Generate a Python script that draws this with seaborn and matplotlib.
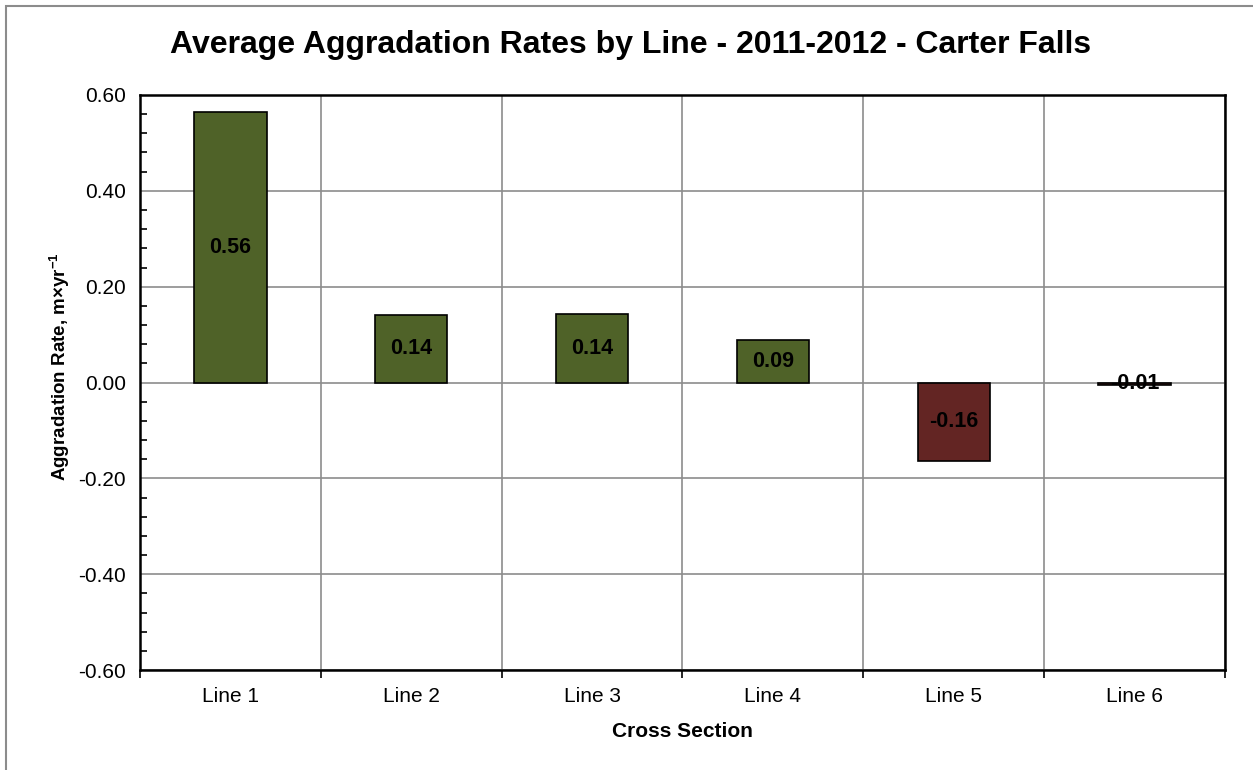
import matplotlib
matplotlib.use("Agg")
import matplotlib.pyplot as plt
from matplotlib.patches import Rectangle
from matplotlib.ticker import MultipleLocator, FixedLocator
import seaborn as sns

lines = ["Line 1", "Line 2", "Line 3", "Line 4", "Line 5", "Line 6"]
rates = [0.565, 0.141, 0.143, 0.089, -0.163, -0.006]
bar_colors = ["#4f6228", "#4f6228", "#4f6228", "#4f6228", "#632523", "#632523"]
yticks = [-0.6, -0.4, -0.2, 0.0, 0.2, 0.4, 0.6]

sns.set_style("white")
plt.rcParams["font.family"] = ["Liberation Sans", "DejaVu Sans"]
plt.rcParams["text.color"] = "black"
plt.rcParams["axes.labelcolor"] = "black"
plt.rcParams["xtick.color"] = "black"
plt.rcParams["ytick.color"] = "black"
plt.rcParams["mathtext.fontset"] = "custom"
plt.rcParams["mathtext.rm"] = "Liberation Sans"
plt.rcParams["mathtext.bf"] = "Liberation Sans:bold"

fig = plt.figure(figsize=(12.53, 7.70), dpi=100)
ax = fig.add_axes([140 / 1253, 1 - 670 / 770, 1085 / 1253, 575 / 770])

sns.barplot(x=lines, y=rates, hue=lines, palette=bar_colors, width=0.4,
            edgecolor="black", linewidth=1.2, saturation=1, legend=False, ax=ax)

ax.set_xlim(-0.5, 5.5)
ax.set_ylim(-0.6, 0.6)

# y axis: major ticks outside, minor inside
ax.set_yticks(yticks)
ax.set_yticklabels([f"{v:.2f}" for v in yticks])
ax.yaxis.set_minor_locator(MultipleLocator(0.04))
ax.tick_params(axis="y", which="major", direction="out", length=6, width=1.2,
               labelsize=15, pad=4)
ax.tick_params(axis="y", which="minor", direction="in", length=5, width=1.2, left=True)

# x axis: labels at centres, tick marks + grid at category boundaries
ax.xaxis.set_minor_locator(FixedLocator([i - 0.5 for i in range(len(lines) + 1)]))
ax.tick_params(axis="x", which="major", length=0, labelsize=15, pad=12)
ax.tick_params(axis="x", which="minor", direction="out", length=6, width=1.2, bottom=True)

ax.grid(False)
ax.yaxis.grid(True, which="major", color="#8c8c8c", linewidth=1.2)
ax.xaxis.grid(True, which="minor", color="#8c8c8c", linewidth=1.2)
ax.set_axisbelow(True)

for s in ax.spines.values():
    s.set_color("black")
    s.set_linewidth(1.8)
    s.set_visible(True)

for i, v in enumerate(rates):
    ax.text(i, v / 2, f"{v:.2f}", ha="center", va="center",
            fontsize=15.5, fontweight="bold", color="black")

ax.set_xlabel("Cross Section", fontsize=15, fontweight="bold", labelpad=12)
ax.set_ylabel(r"Aggradation Rate, m×yr$^{\mathbf{-1}}$", fontsize=13.5,
              fontweight="bold")
ax.yaxis.set_label_coords(-0.063, 0.527)

fig.text(631 / 1253, 1 - 45 / 770, "Average Aggradation Rates by Line - 2011-2012 - Carter Falls",
         ha="center", va="center", fontsize=23, fontweight="bold")

fig.patches.append(Rectangle((6 / 1253, -0.1), 1.2, 1 - 6 / 770 + 0.1,
                             transform=fig.transFigure, fill=False,
                             edgecolor="#8c8c8c", linewidth=1.5))

fig.savefig("out.png", dpi=100)
